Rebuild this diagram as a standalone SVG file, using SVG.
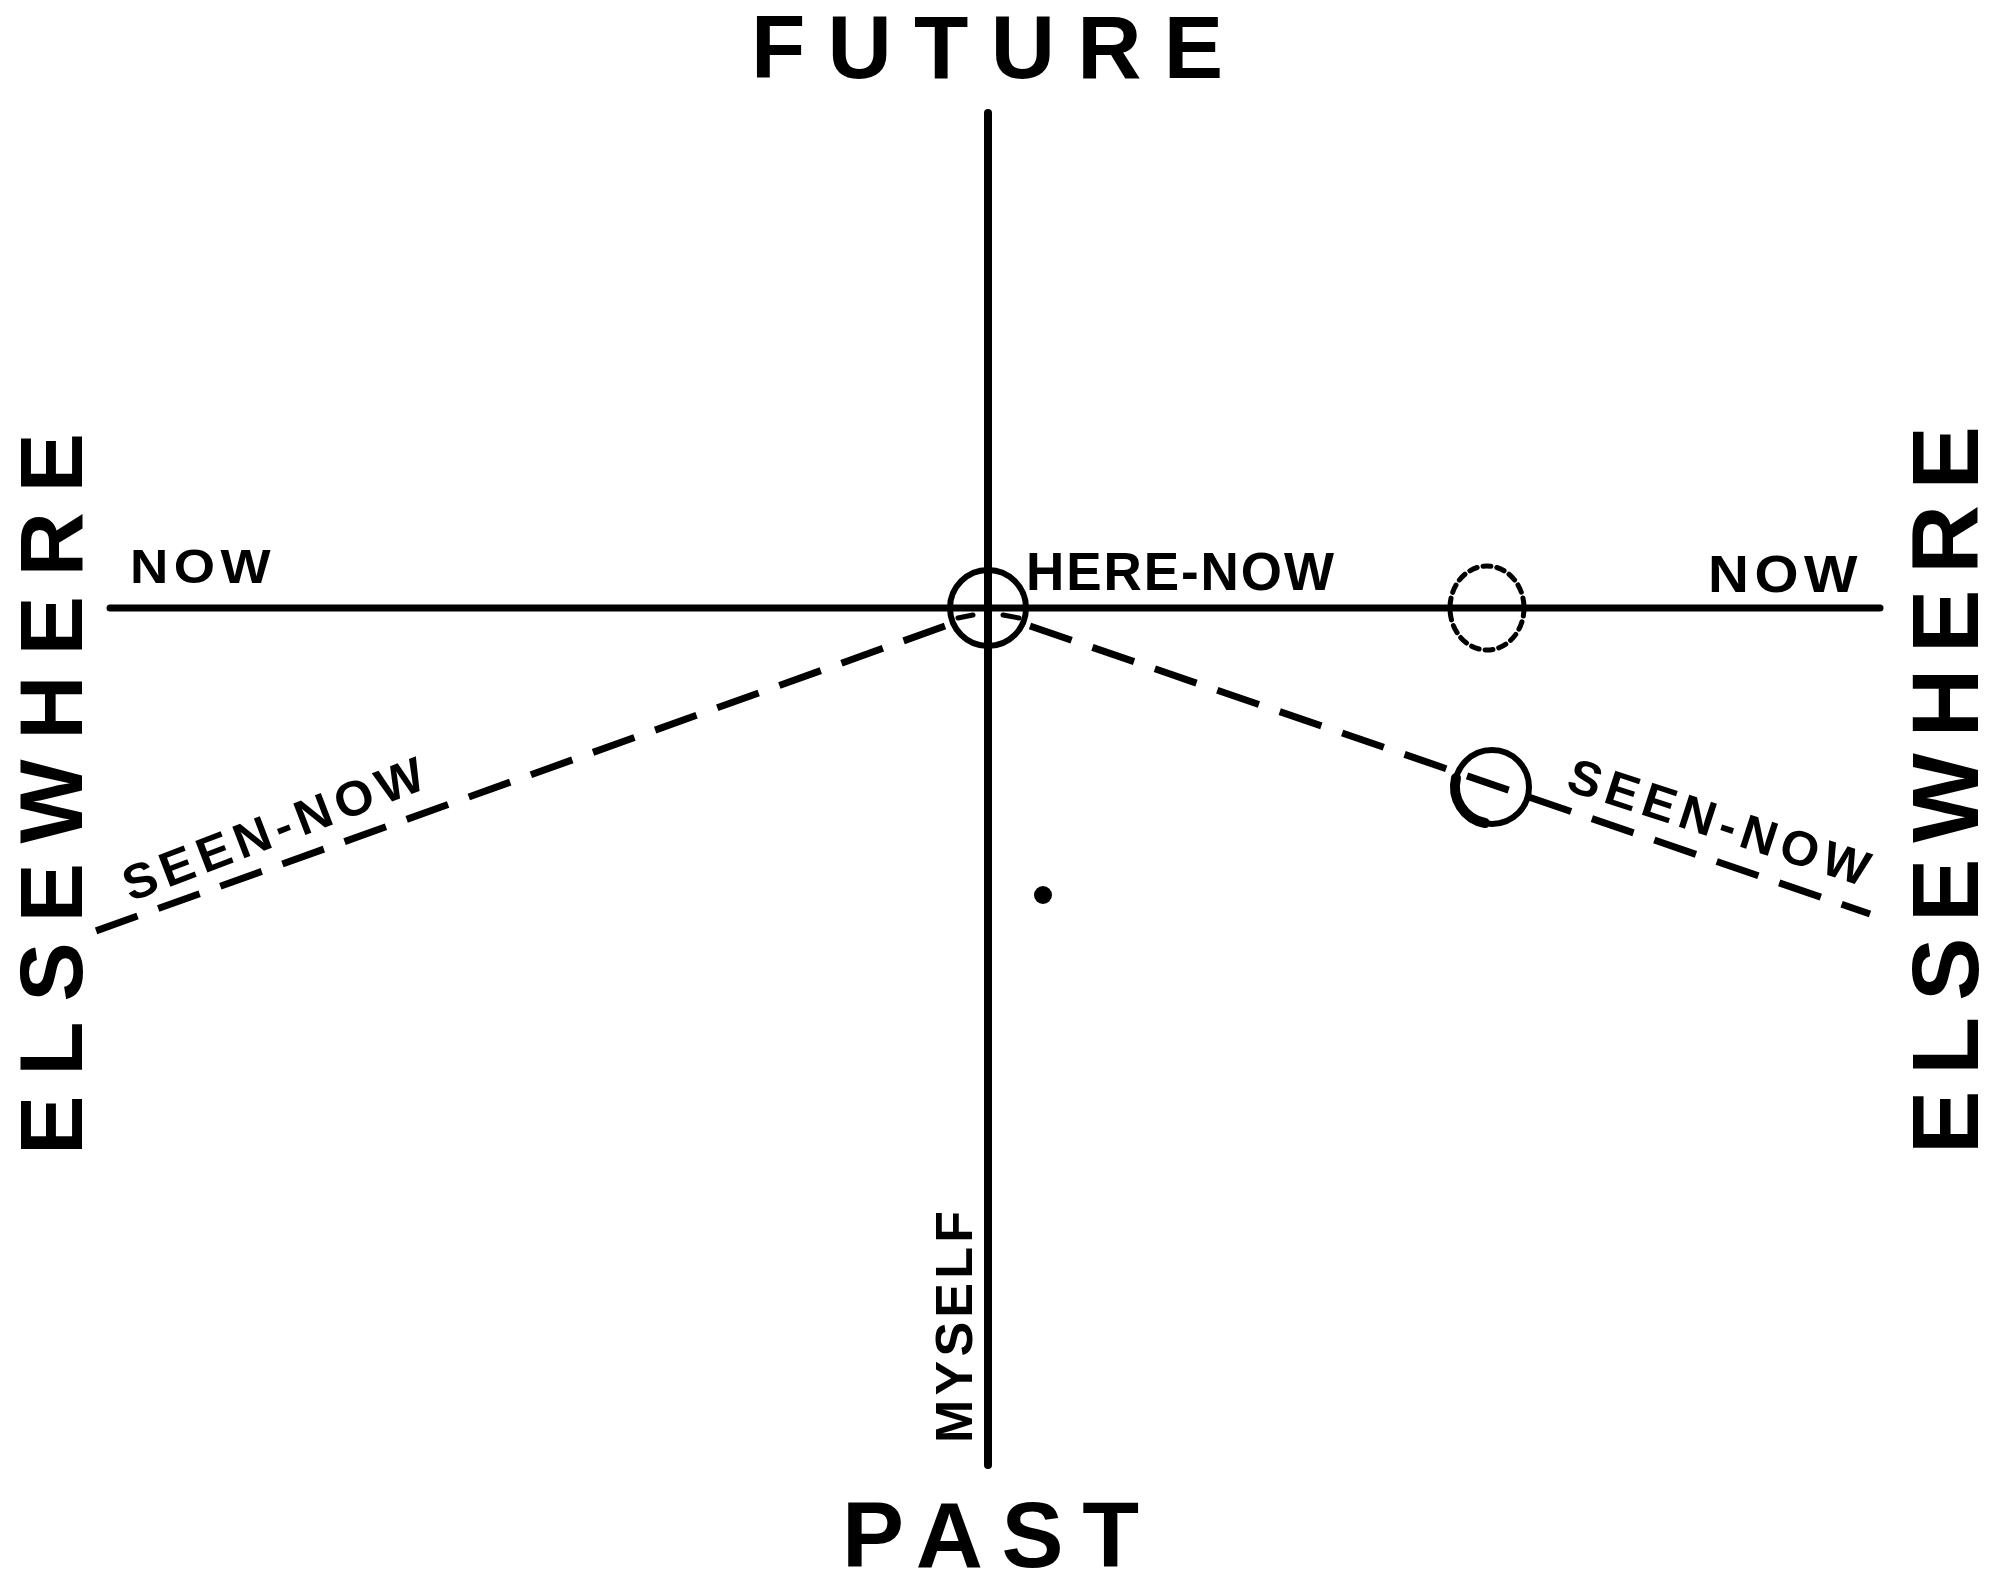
<svg xmlns="http://www.w3.org/2000/svg" width="2000" height="1590" viewBox="0 0 2000 1590">
<style>
  text { font-family: "Liberation Sans", Arial, sans-serif; font-weight: bold; fill: #000; }
  .solid { stroke: #000; fill: none; stroke-linecap: round; }
  .dash { stroke: #000; fill: none; stroke-width: 7; stroke-dasharray: 44 22; stroke-linecap: butt; }
</style>
<rect width="2000" height="1590" fill="#fff"/>
<g id="connectors">
  <line id="axis-time" class="solid" x1="988" y1="113" x2="988" y2="1465" stroke-width="8"/>
  <line id="axis-now" class="solid" x1="110" y1="608" x2="1880" y2="608" stroke-width="7"/>
  <line id="seen-now-left" class="dash" x1="945" y1="626" x2="93" y2="932"/>
  <line id="seen-now-right" class="dash" x1="1030" y1="626" x2="1870" y2="914" stroke-width="8"/>
  <line class="solid" x1="958" y1="618" x2="973" y2="615" stroke-width="5"/>
  <line class="solid" x1="1003" y1="615" x2="1019" y2="618" stroke-width="5"/>
</g>
<g id="here-now-circle">
  <circle cx="988" cy="608" r="38" class="solid" stroke-width="6"/>
</g>
<g id="object-now">
  <ellipse cx="1487" cy="608" rx="37" ry="42" class="solid" stroke-width="5" stroke-dasharray="8 6"/>
</g>
<g id="object-seen">
  <circle cx="1492" cy="787" r="37" class="solid" stroke-width="6"/>
  <path d="M1485 823 A37 37 0 0 1 1456 778" class="solid" stroke-width="10"/>
</g>
<g id="dot">
  <circle cx="1043" cy="895" r="9" fill="#000"/>
</g>
<g id="labels">
  <text x="751" y="78" font-size="89" textLength="472" lengthAdjust="spacing">FUTURE</text>
  <text x="842" y="1567" font-size="93" textLength="297" lengthAdjust="spacing">PAST</text>
  <text x="1026" y="590" font-size="53" textLength="308" lengthAdjust="spacing">HERE-NOW</text>
  <text x="130" y="583" font-size="49" textLength="146" lengthAdjust="spacingAndGlyphs" letter-spacing="5">NOW</text>
  <text x="1708" y="592" font-size="51" textLength="155" lengthAdjust="spacingAndGlyphs" letter-spacing="5">NOW</text>
  <text transform="translate(82,794) rotate(-90)" x="0" y="0" font-size="89" text-anchor="middle" textLength="722" lengthAdjust="spacing">ELSEWHERE</text>
  <text transform="translate(1978,790) rotate(-90)" x="0" y="0" font-size="95" text-anchor="middle" textLength="728" lengthAdjust="spacing">ELSEWHERE</text>
  <text transform="translate(972,1327) rotate(-90)" x="0" y="0" font-size="52" text-anchor="middle" textLength="232" lengthAdjust="spacing">MYSELF</text>
  <text transform="translate(276,828) rotate(-21)" x="0" y="17" font-size="49" text-anchor="middle" textLength="325" lengthAdjust="spacingAndGlyphs" letter-spacing="6">SEEN-NOW</text>
  <text transform="translate(1722,823) rotate(18)" x="0" y="17" font-size="49" text-anchor="middle" textLength="320" lengthAdjust="spacingAndGlyphs" letter-spacing="6">SEEN-NOW</text>
</g>
</svg>
